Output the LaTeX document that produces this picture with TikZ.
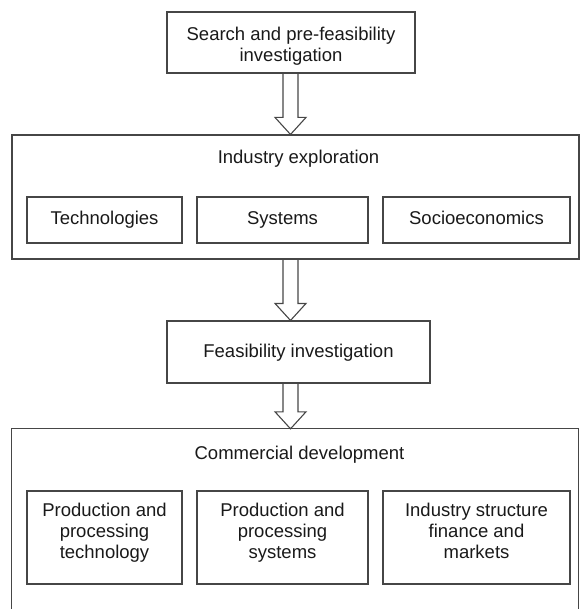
\documentclass[tikz,border=0pt]{standalone}
\usepackage{fontspec}
\setmainfont{Liberation Sans}
\usepackage{xcolor}
\usetikzlibrary{calc}
\definecolor{qline}{RGB}{70,70,70}
\definecolor{qtext}{RGB}{25,25,25}

\tikzset{
  box/.style={draw=qline, line width=1.1pt, text=qtext, align=center, inner sep=0pt,
    font=\fontsize{18.5}{21}\selectfont, text height=13pt, text depth=3pt},
  twolines/.style={text height=41pt, text depth=2pt},
  threelines/.style={text height=43pt, text depth=2pt},
  label/.style={text=qtext, inner sep=0pt, font=\fontsize{18.5}{21}\selectfont,
    text height=13pt, text depth=3pt},
  blockarrow/.style={draw=qline, line width=1.1pt, line join=miter},
}

% hollow block arrow from one box down to the next
\newcommand{\hollowarrow}[2]{%
  \draw[blockarrow] let \p1=(axis |- #1.south), \p2=(axis |- #2.north) in
    (\x1-7.5pt,\y1) -- (\x1-7.5pt,\y2+17pt) -- (\x1-15.5pt,\y2+17pt) -- (\x1,\y2)
    -- (\x1+15.5pt,\y2+17pt) -- (\x1+7.5pt,\y2+17pt) -- (\x1+7.5pt,\y1);
}

\begin{document}
\begin{tikzpicture}[x=1pt,y=-1pt]
\useasboundingbox (0,0) rectangle (580,609);
\coordinate (axis) at (290.5,0);

%stage boxes:
 \node[box, twolines, minimum width=248pt, minimum height=61pt] (search) at (291,42.5)
   {Search and pre-feasibility\\investigation};
 \node[box, minimum width=567pt, minimum height=124pt] (industry) at (295.5,197) {};
 \node[label] (industrytitle) at (298.5,159) {Industry exploration};
 \node[box, minimum width=263pt, minimum height=62pt] (feasibility) at (298.5,352)
   {Feasibility investigation};
 \node[minimum width=566pt, minimum height=180pt, inner sep=0pt] (commercial) at (295,519) {};
 \draw[draw=qline, line width=1.1pt] (commercial.south west) -- (commercial.north west)
   -- (commercial.north east) -- (commercial.south east);
 \node[label] (commercialtitle) at (299.5,454) {Commercial development};

%industry parts:
 \node[box, minimum width=155pt, minimum height=46pt] (technologies) at (104.5,220) {Technologies};
 \node[box, minimum width=171pt, minimum height=46pt] (systems) at (282.5,220) {Systems};
 \node[box, minimum width=187pt, minimum height=46pt] (socio) at (476.5,220) {Socioeconomics};

%commercial parts:
 \node[box, threelines, minimum width=155pt, minimum height=93pt] (prodtech) at (104.5,537.5)
   {Production and\\processing\\technology};
 \node[box, threelines, minimum width=171pt, minimum height=93pt] (prodsys) at (282.5,537.5)
   {Production and\\processing\\systems};
 \node[box, threelines, minimum width=187pt, minimum height=93pt] (structure) at (476.5,537.5)
   {Industry structure\\finance and\\markets};

%arrows:
 \hollowarrow{search}{industry}
 \hollowarrow{industry}{feasibility}
 \hollowarrow{feasibility}{commercial}
\end{tikzpicture}
\end{document}
